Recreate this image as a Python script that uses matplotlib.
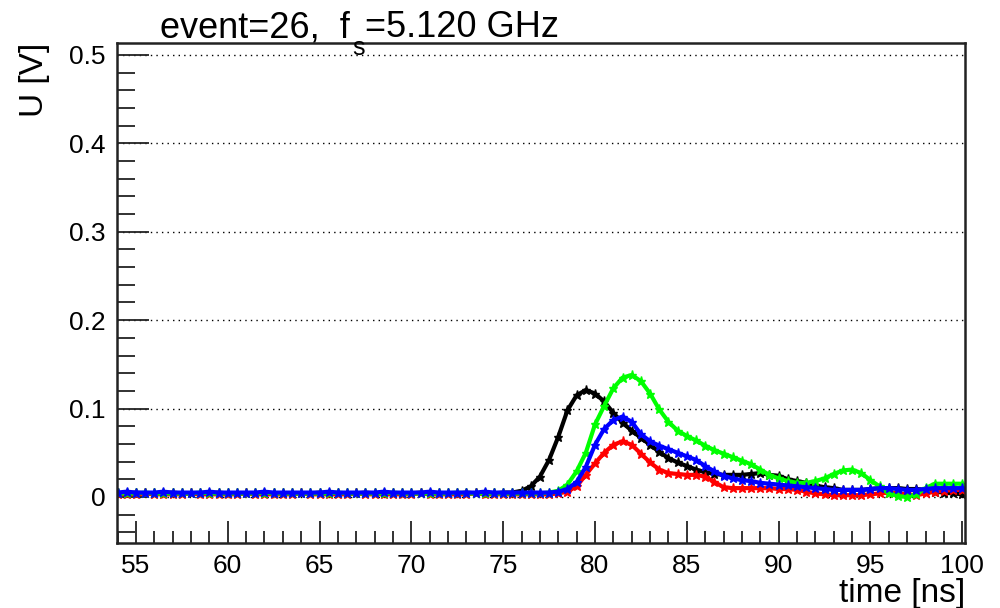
"""
Waveform display: four channels of one digitizer event
"""

import numpy as np
import matplotlib
matplotlib.use("Agg")
import matplotlib.pyplot as plt
from matplotlib.ticker import MultipleLocator

plt.rcParams['font.family'] = ['Liberation Sans', 'DejaVu Sans']

# sample times [ns], 0.5 ns steps from 54 to 100
time_ns = np.arange(54.0, 100.01, 0.5)

# flat baseline part, 54.0 .. 75.5 ns (44 samples)
base_black = [0.004, 0.004, 0.005, 0.004, 0.004, 0.004, 0.005, 0.004, 0.004, 0.004,
              0.004, 0.005, 0.004, 0.004, 0.004, 0.004, 0.005, 0.004, 0.004, 0.004,
              0.004, 0.004, 0.005, 0.004, 0.004, 0.004, 0.004, 0.005, 0.004, 0.004,
              0.004, 0.004, 0.004, 0.005, 0.004, 0.004, 0.004, 0.004, 0.005, 0.004,
              0.004, 0.004, 0.005, 0.005]
base_red = [0.003, 0.003, 0.003, 0.004, 0.003, 0.003, 0.003, 0.003, 0.004, 0.003,
            0.003, 0.003, 0.003, 0.003, 0.004, 0.003, 0.003, 0.003, 0.003, 0.003,
            0.004, 0.003, 0.003, 0.003, 0.003, 0.003, 0.004, 0.003, 0.003, 0.003,
            0.003, 0.003, 0.003, 0.004, 0.003, 0.003, 0.003, 0.003, 0.003, 0.004,
            0.003, 0.003, 0.003, 0.003]
base_green = [0.004, 0.004, 0.004, 0.005, 0.004, 0.004, 0.004, 0.004, 0.004, 0.005,
              0.004, 0.004, 0.004, 0.004, 0.004, 0.004, 0.005, 0.004, 0.004, 0.004,
              0.004, 0.004, 0.004, 0.004, 0.005, 0.004, 0.004, 0.004, 0.004, 0.004,
              0.005, 0.004, 0.004, 0.004, 0.004, 0.004, 0.004, 0.005, 0.004, 0.004,
              0.004, 0.004, 0.004, 0.004]
base_blue = [0.005, 0.006, 0.005, 0.005, 0.005, 0.006, 0.005, 0.005, 0.005, 0.005,
             0.006, 0.005, 0.005, 0.005, 0.005, 0.005, 0.006, 0.005, 0.005, 0.005,
             0.005, 0.005, 0.005, 0.006, 0.005, 0.005, 0.005, 0.005, 0.005, 0.006,
             0.005, 0.005, 0.005, 0.005, 0.006, 0.005, 0.005, 0.005, 0.005, 0.005,
             0.006, 0.005, 0.005, 0.005]

# pulse part, 76.0 .. 100.0 ns (49 samples)
pulse_black = [0.007, 0.012, 0.023, 0.042, 0.068, 0.098, 0.115, 0.121, 0.117, 0.108,
               0.095, 0.084, 0.075, 0.067, 0.059, 0.051, 0.044, 0.039, 0.035, 0.031,
               0.028, 0.026, 0.025, 0.025, 0.025, 0.026, 0.027, 0.025, 0.024, 0.020,
               0.018, 0.016, 0.013, 0.011, 0.010, 0.008, 0.008, 0.008, 0.009, 0.010,
               0.010, 0.010, 0.009, 0.009, 0.008, 0.006, 0.005, 0.004, 0.003]
pulse_red = [0.003, 0.003, 0.003, 0.003, 0.004, 0.006, 0.012, 0.025, 0.038, 0.050,
             0.059, 0.063, 0.059, 0.049, 0.039, 0.031, 0.027, 0.026, 0.025, 0.025,
             0.023, 0.017, 0.011, 0.010, 0.010, 0.010, 0.010, 0.010, 0.009, 0.009,
             0.008, 0.006, 0.004, 0.003, 0.002, 0.002, 0.002, 0.002, 0.003, 0.004,
             0.005, 0.004, 0.003, 0.002, 0.004, 0.006, 0.007, 0.008, 0.008]
pulse_green = [0.004, 0.004, 0.004, 0.005, 0.007, 0.014, 0.029, 0.050, 0.082, 0.103,
               0.123, 0.135, 0.138, 0.131, 0.117, 0.099, 0.085, 0.075, 0.069, 0.064,
               0.058, 0.053, 0.049, 0.045, 0.041, 0.037, 0.031, 0.025, 0.021, 0.018,
               0.016, 0.016, 0.018, 0.021, 0.026, 0.030, 0.031, 0.027, 0.019, 0.012,
               0.004, 0.001, 0.000, 0.003, 0.010, 0.015, 0.015, 0.015, 0.015]
pulse_blue = [0.005, 0.005, 0.005, 0.005, 0.006, 0.009, 0.017, 0.034, 0.059, 0.077,
              0.087, 0.091, 0.085, 0.071, 0.063, 0.058, 0.054, 0.050, 0.046, 0.042,
              0.035, 0.029, 0.024, 0.021, 0.019, 0.018, 0.016, 0.015, 0.014, 0.013,
              0.012, 0.011, 0.010, 0.009, 0.008, 0.008, 0.008, 0.008, 0.009, 0.010,
              0.010, 0.009, 0.008, 0.008, 0.009, 0.010, 0.010, 0.010, 0.010]

channels = [
    ('black', base_black + pulse_black),
    ('#ff0000', base_red + pulse_red),
    ('#00ff00', base_green + pulse_green),
    ('#0000ff', base_blue + pulse_blue),
]


def main():
    fig = plt.figure(figsize=(10, 6.08), dpi=100)
    ax = fig.add_axes([0.117, 0.107, 0.848, 0.8224])

    for color, volts in channels:
        ax.plot(time_ns, volts, color=color, lw=3, marker='*', ms=6.5,
                mec=color, mfc=color)

    ax.set_xlim(53.97, 100.15)
    ax.set_ylim(-0.052, 0.5136)

    ax.xaxis.set_major_locator(MultipleLocator(5))
    ax.xaxis.set_minor_locator(MultipleLocator(1))
    ax.yaxis.set_major_locator(MultipleLocator(0.1))
    ax.yaxis.set_minor_locator(MultipleLocator(0.02))
    ax.set_yticks([0, 0.1, 0.2, 0.3, 0.4, 0.5])
    ax.set_yticklabels(['0', '0.1', '0.2', '0.3', '0.4', '0.5'])

    ax.tick_params(axis='both', which='both', direction='in', top=False,
                   right=False, labelsize=19, width=1.3, color='#222222')
    ax.tick_params(axis='x', which='major', length=16, pad=8)
    ax.tick_params(axis='x', which='minor', length=9)
    ax.tick_params(axis='y', which='major', length=23, pad=8)
    ax.tick_params(axis='y', which='minor', length=13)

    ax.grid(axis='y', which='major', color='black', ls=(0, (1, 3)), lw=1)

    for spine in ax.spines.values():
        spine.set_linewidth(1.8)
        spine.set_color('#222222')

    ax.set_xlabel('time [ns]', fontsize=24, loc='right', labelpad=0)
    ax.set_ylabel('U [V]', fontsize=24, loc='top', labelpad=14)

    # title with ROOT-style low subscript, built from three pieces
    renderer = fig.canvas.get_renderer()
    x0, base_y = 160, 608 - 37
    t1 = fig.text(x0 / 1000, base_y / 608, 'event=26,  f', fontsize=26,
                  ha='left', va='baseline')
    w1 = t1.get_window_extent(renderer).width
    t2 = fig.text((x0 + w1 + 2) / 1000, (base_y - 18) / 608, 's', fontsize=18,
                  ha='left', va='baseline')
    w2 = t2.get_window_extent(renderer).width
    fig.text((x0 + w1 + w2 + 3) / 1000, base_y / 608, '=5.120 GHz', fontsize=26,
             ha='left', va='baseline')

    plt.savefig('out.png', dpi=100)


if __name__ == "__main__":
    main()
